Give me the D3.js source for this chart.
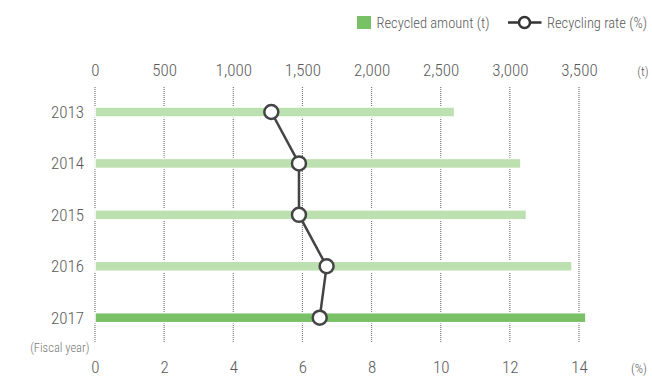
<!DOCTYPE html>
<html><head><meta charset="utf-8">
<script src="https://cdn.jsdelivr.net/npm/d3@7"></script>
<style>
html,body{margin:0;padding:0;background:#fff;}
svg text{font-family:"Roboto Condensed","Liberation Sans Narrow","DejaVu Sans Condensed",sans-serif;font-weight:300;}
</style></head>
<body><svg id="c" width="652" height="376"></svg>
<script>
const years = ["2013","2014","2015","2016","2017"];
const amounts = [2600, 3080, 3120, 3450, 3550];
const rates = [5.1, 5.9, 5.9, 6.7, 6.5];
const amountTicks = [0,500,1000,1500,2000,2500,3000,3500];
const rateTicks = [0,2,4,6,8,10,12,14];

const svg = d3.select("#c");
const x = d3.scaleLinear().domain([0,3500]).range([95,579]);
const xr = d3.scaleLinear().domain([0,14]).range([95,579]);
const y = d3.scalePoint().domain(years).range([112,317.7]);
const barH = 10;
const textCol = "#5a5a5a";

// gridlines
svg.append("g").selectAll("line").data(amountTicks).join("line")
  .attr("x1",d=>x(d)).attr("x2",d=>x(d)).attr("y1",87).attr("y2",343)
  .attr("stroke","#7a7a7a").attr("stroke-width",1.2).attr("stroke-dasharray","1,1");

// top axis
const topAxis = d3.axisTop(x).tickValues(amountTicks).tickSize(0).tickPadding(0)
  .tickFormat(d3.format(","));
const gt = svg.append("g").attr("transform","translate(0,76)").call(topAxis);
gt.select(".domain").remove();
gt.selectAll("text").attr("fill",textCol).attr("font-size",17).attr("dy",0);
svg.append("text").attr("x",643).attr("y",76).attr("text-anchor","middle")
  .attr("fill",textCol).attr("font-size",13).text("(t)");

// bottom axis
const botAxis = d3.axisBottom(xr).tickValues(rateTicks).tickSize(0).tickPadding(0);
const gb = svg.append("g").attr("transform","translate(0,373)").call(botAxis);
gb.select(".domain").remove();
gb.selectAll("text").attr("fill",textCol).attr("font-size",17).attr("dy",0);
svg.append("text").attr("x",639).attr("y",373).attr("text-anchor","middle")
  .attr("fill",textCol).attr("font-size",13).text("(%)");

// year labels
svg.append("g").selectAll("text").data(years).join("text")
  .attr("x",84).attr("y",d=>y(d)+6).attr("text-anchor","end")
  .attr("fill",textCol).attr("font-size",17).text(d=>d);
svg.append("text").attr("x",89.5).attr("y",352).attr("text-anchor","end")
  .attr("fill","#777").attr("font-size",12.5).text("(Fiscal year)");

// bars
svg.append("g").selectAll("rect").data(years).join("rect")
  .attr("x",x(0)).attr("y",d=>y(d)-barH/2)
  .attr("width",(d,i)=>x(amounts[i])-x(0)).attr("height",barH)
  .attr("fill",(d,i)=>i===years.length-1?"#78c166":"#bde0b1")
  .attr("stroke","#fff").attr("stroke-width",1.5);

// line
const pts = years.map((d,i)=>[xr(rates[i]), y(d)]);
svg.append("path").attr("d",d3.line()(pts)).attr("fill","none")
  .attr("stroke","#444").attr("stroke-width",2.5);
svg.append("g").selectAll("circle").data(pts).join("circle")
  .attr("cx",d=>d[0]).attr("cy",d=>d[1]).attr("r",7)
  .attr("fill","#fff").attr("stroke","#444").attr("stroke-width",2.5);

// legend
svg.append("rect").attr("x",357).attr("y",16).attr("width",14).attr("height",13).attr("fill","#78c166");
svg.append("text").attr("x",376.5).attr("y",28).attr("fill",textCol).attr("font-size",14.5)
  .text("Recycled amount (t)");
svg.append("line").attr("x1",508).attr("x2",541.5).attr("y1",22.5).attr("y2",22.5)
  .attr("stroke","#333").attr("stroke-width",2.5);
svg.append("circle").attr("cx",524.5).attr("cy",22.5).attr("r",5.5)
  .attr("fill","#fff").attr("stroke","#333").attr("stroke-width",2.5);
svg.append("text").attr("x",547).attr("y",28).attr("fill",textCol).attr("font-size",14.5)
  .text("Recycling rate (%)");
</script></body></html>
